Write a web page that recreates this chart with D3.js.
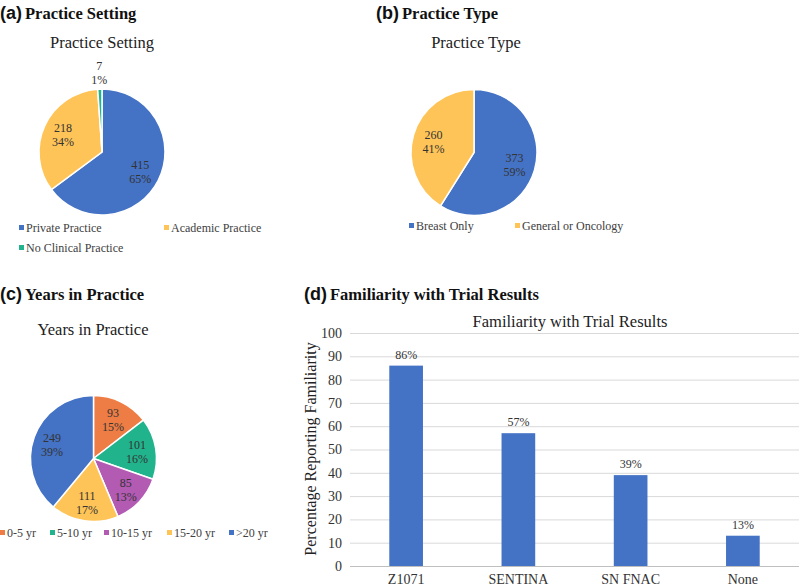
<!DOCTYPE html>
<html><head><meta charset="utf-8">
<script src="https://cdn.jsdelivr.net/npm/d3@7"></script>
<style>body{margin:0;background:#fff}svg{display:block}
.sf{font-family:"Liberation Serif","Times New Roman",Times,"DejaVu Serif",serif}
.ss{font-family:"Liberation Sans",Arial,Helvetica,sans-serif}
</style>
</head><body>
<svg id="c" width="800" height="587"></svg>
<script>
const settingLabels = ["Private Practice", "Academic Practice", "No Clinical Practice"];
const settingValues = [415, 218, 7];
const settingPct = ["65%", "34%", "1%"];

const typeLabels = ["Breast Only", "General or Oncology"];
const typeValues = [373, 260];
const typePct = ["59%", "41%"];

const yearsLabels = ["0-5 yr", "5-10 yr", "10-15 yr", "15-20 yr", ">20 yr"];
const yearsValues = [93, 101, 85, 111, 249];
const yearsPct = ["15%", "16%", "13%", "17%", "39%"];

const trialLabels = ["Z1071", "SENTINA", "SN FNAC", "None"];
const trialValues = [86, 57, 39, 13];
const yTicks = [0, 10, 20, 30, 40, 50, 60, 70, 80, 90, 100];

const BLUE = "#4472C4", YELLOW = "#FFC458", GREEN = "#21B48C", ORANGE = "#ED7D45", PURPLE = "#B35AB3";
const txt = "#404040";

const svg = d3.select("#c");

function panelTitle(x, y, letter, title) {
  const t = svg.append("text").attr("x", x).attr("y", y).attr("fill", "#111");
  t.append("tspan").attr("class", "ss").attr("font-weight", "bold").attr("font-size", 18).text(letter);
  t.append("tspan").attr("class", "sf").attr("font-weight", "bold").attr("font-size", 16.5).attr("dx", 3).text(title);
}
function subTitle(x, y, s) {
  svg.append("text").attr("class", "sf").attr("x", x).attr("y", y).attr("text-anchor", "middle")
    .attr("font-size", 16.5).attr("fill", "#222").text(s);
}

function pie(cx, cy, r, values, pcts, colors, lr) {
  const g = svg.append("g").attr("transform", `translate(${cx},${cy})`);
  const total = d3.sum(values);
  const arcs = d3.pie().sort(null).startAngle(0).endAngle(2 * Math.PI)(values);
  const arc = d3.arc().innerRadius(0).outerRadius(r);
  g.selectAll("path").data(arcs).join("path")
    .attr("d", arc).attr("fill", (d, i) => colors[i])
    .attr("stroke", "#fff").attr("stroke-width", 1.5);
  arcs.forEach((d, i) => {
    const frac = d.value / total;
    const rr = frac < 0.03 ? r * 1.27 : r * lr;
    const a = (d.startAngle + d.endAngle) / 2;
    const x = Math.sin(a) * rr, y = -Math.cos(a) * rr;
    const t = g.append("text").attr("class", "sf").attr("text-anchor", "middle")
      .attr("font-size", 12).attr("fill", "#333");
    t.append("tspan").attr("x", x).attr("y", y - 2).text(d.value);
    t.append("tspan").attr("x", x).attr("y", y + 12).text(pcts[i]);
  });
}

function legendItem(x, y, color, label) {
  svg.append("rect").attr("x", x).attr("y", y - 3).attr("width", 5).attr("height", 5).attr("fill", color);
  svg.append("text").attr("class", "sf").attr("x", x + 7).attr("y", y + 4)
    .attr("font-size", 12).attr("fill", txt).text(label);
}

// (a)
panelTitle(0, 19, "(a)", "Practice Setting");
subTitle(102, 48, "Practice Setting");
pie(102, 152, 63, settingValues, settingPct, [BLUE, YELLOW, GREEN], 0.68);
legendItem(19, 228, BLUE, settingLabels[0]);
legendItem(164, 228, YELLOW, settingLabels[1]);
legendItem(19, 248, GREEN, settingLabels[2]);

// (b)
panelTitle(376, 19, "(b)", "Practice Type");
subTitle(476, 48, "Practice Type");
pie(474, 152.5, 63, typeValues, typePct, [BLUE, YELLOW], 0.67);
legendItem(409, 226, BLUE, typeLabels[0]);
legendItem(515, 226, YELLOW, typeLabels[1]);

// (c)
panelTitle(0, 300, "(c)", "Years in Practice");
subTitle(93, 335, "Years in Practice");
pie(93.5, 458.5, 63, yearsValues, yearsPct, [ORANGE, GREEN, PURPLE, YELLOW, BLUE], 0.7);
const lx = [0, 50, 104, 167, 229];
yearsLabels.forEach((l, i) => legendItem(lx[i], 533, [ORANGE, GREEN, PURPLE, YELLOW, BLUE][i], l));

// (d)
panelTitle(304, 300, "(d)", "Familiarity with Trial Results");
subTitle(570, 327, "Familiarity with Trial Results");
const x = d3.scaleBand().domain(trialLabels).range([350, 799]).paddingInner(0.7).paddingOuter(0.35);
const y = d3.scaleLinear().domain([0, 100]).range([566, 333]);
const gy = svg.append("g").attr("transform", "translate(350,0)")
  .call(d3.axisLeft(y).tickValues(yTicks).tickSize(-449).tickPadding(8));
gy.select(".domain").remove();
gy.attr("font-family", null).attr("font-size", null);
gy.selectAll(".tick line").attr("stroke", "#d9d9d9");
gy.selectAll(".tick").filter(d => d === 0).select("line").attr("stroke", "#bfbfbf");
gy.selectAll("text").attr("class", "sf").attr("font-size", 14).attr("fill", "#333");
svg.selectAll(".bar").data(trialValues).join("rect").attr("class", "bar")
  .attr("x", (d, i) => x(trialLabels[i])).attr("width", x.bandwidth())
  .attr("y", d => y(d)).attr("height", d => y(0) - y(d)).attr("fill", BLUE);
svg.selectAll(".blab").data(trialValues).join("text").attr("class", "blab sf")
  .attr("x", (d, i) => x(trialLabels[i]) + x.bandwidth() / 2).attr("y", d => y(d) - 7)
  .attr("text-anchor", "middle").attr("font-size", 12).attr("fill", "#333")
  .text(d => d + "%");
const gx = svg.append("g").attr("transform", "translate(0,566)")
  .call(d3.axisBottom(x).tickSize(0).tickPadding(8));
gx.select(".domain").remove();
gx.attr("font-family", null).attr("font-size", null);
gx.selectAll("text").attr("class", "sf").attr("font-size", 14).attr("fill", "#333");
svg.append("text").attr("class", "sf").attr("transform", "translate(316,449) rotate(-90)").attr("text-anchor", "middle")
  .attr("font-size", 16).attr("fill", "#222").text("Percentage Reporting Familiarity");
</script>
</body></html>
